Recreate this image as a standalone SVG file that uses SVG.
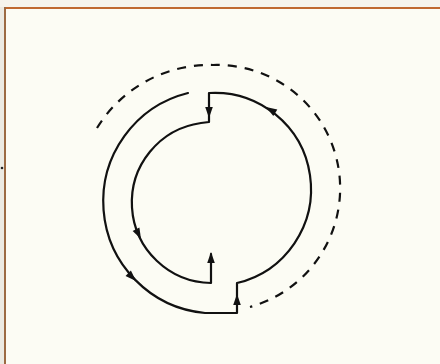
<svg xmlns="http://www.w3.org/2000/svg" width="440" height="364" viewBox="0 0 440 364">
  <style>
    .ln { fill: none; stroke: #111; stroke-width: 2.2; stroke-linejoin: round; stroke-linecap: round; }
    .dash { fill: none; stroke: #111; stroke-width: 2.2; stroke-dasharray: 9 8; }
    .ah { fill: #111; }
  </style>
  <defs>
    <path id="ah" class="ah" d="M0,0 L-11,-3.8 L-11,3.8 Z"/>
  </defs>
  <rect x="0" y="0" width="440" height="364" fill="#fcfcf4"/>
  <rect x="0" y="0" width="5" height="364" fill="#eceae2"/>
  <rect x="0" y="0" width="440" height="7" fill="#f6f4ec"/>
  <g id="frame">
    <line x1="5" y1="8" x2="440" y2="8" stroke="#c0692f" stroke-width="2"/>
    <line x1="5" y1="7" x2="5" y2="364" stroke="#9c6a42" stroke-width="2"/>
    <circle cx="2" cy="168" r="1.3" fill="#222"/>
  </g>
  <g id="dashed-loop">
    <path class="dash" d="M97,128 A132,132 0 0 1 213,65 A123.3,123.3 0 0 1 250,307"/>
  </g>
  <g id="connectors">
    <path class="ln" d="M188,93 A111.9,111.9 0 0 0 205,313 L237,313 L237,283 A96.4,96.4 0 0 0 209,93 L209,122 L201,123 A80.4,80.4 0 0 0 211,283 L211,254"/>
  </g>
  <g id="arrows">
    <use href="#ah" transform="translate(209,118) rotate(90)"/>
    <use href="#ah" transform="translate(266,107) rotate(-148)"/>
    <use href="#ah" transform="translate(141,239) rotate(63)"/>
    <use href="#ah" transform="translate(136,281) rotate(45)"/>
    <use href="#ah" transform="translate(211,252) rotate(-90)"/>
    <use href="#ah" transform="translate(237,294) rotate(-90)"/>
  </g>
</svg>
